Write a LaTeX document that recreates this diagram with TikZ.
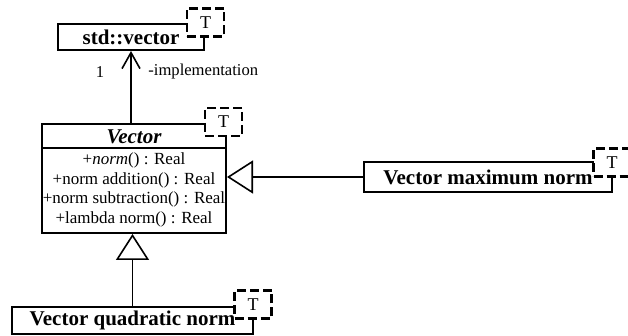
\documentclass[tikz,border=0pt]{standalone}
\usepackage{fontspec}
\setmainfont{Liberation Serif}
\usetikzlibrary{arrows.meta}
\begin{document}
\begin{tikzpicture}[x=0.5pt,y=-0.5pt,
  classbox/.style={draw, line width=1pt, fill=white, inner sep=0pt,
    font=\fontsize{10.5}{12}\selectfont\bfseries},
  tbox/.style={draw, line width=1.3pt, fill=white, inner sep=0pt,
    dash pattern=on 4.5pt off 2pt, minimum width=18.5pt, minimum height=14pt,
    font=\fontsize{9}{10}\selectfont},
  assoc/.style={line width=0.7pt, -{Straight Barb[length=8pt,width=9pt,line width=0.8pt]}},
  gen/.style={line width=0.7pt, -{Triangle[open,fill=white,length=13pt,width=16.5pt,line width=0.8pt]}},
  lbl/.style={inner sep=0pt, font=\fontsize{8.3}{10}\selectfont},
  attr/.style={inner sep=0pt, align=center, font=\fontsize{8.5}{9.85}\selectfont}]
\useasboundingbox (0,0) rectangle (628,336);
% classes
\node[classbox, minimum width=73pt, minimum height=13pt] (stdv) at (131,37) {std::vector};
\node[classbox, minimum width=92pt, minimum height=54.5pt] (vec) at (134,178.5) {};
\node[classbox, minimum width=124pt, minimum height=15pt] (maxn) at (488,177) {Vector maximum norm};
\node[classbox, minimum width=120.5pt, minimum height=13.5pt] (quad) at (132.5,320.5) {Vector quadratic norm};
% Vector contents
\node[inner sep=0pt, font=\fontsize{10.5}{12}\selectfont\bfseries\itshape] (vtitle) at (134,137) {Vector};
\coordinate (sepl) at (42,148);
\draw[line width=0.9pt] (sepl) -- (sepl -| vec.east);
\node[attr] (vattr) at (134,190) {+\textit{norm}() : Real\\+norm addition() : Real\\+norm subtraction() : Real\\+lambda norm() : Real};
% template boxes
\node[tbox] (t1) at (205.5,22.5) {T};
\node[tbox] (t2) at (223.5,122) {T};
\node[tbox] (t3) at (612,162.5) {T};
\node[tbox] (t4) at (253,304.5) {T};
% connectors
\draw[assoc] (vec.north -| stdv.south) -- (stdv.south);
\node[lbl] (mult) at (100,72) {1};
\node[lbl, anchor=west] (role) at (148,72) {-implementation};
\draw[gen] (maxn.west) -- (maxn.west -| vec.east);
\draw[gen] (quad.north) -- (quad.north |- vec.south);
\end{tikzpicture}
\end{document}
